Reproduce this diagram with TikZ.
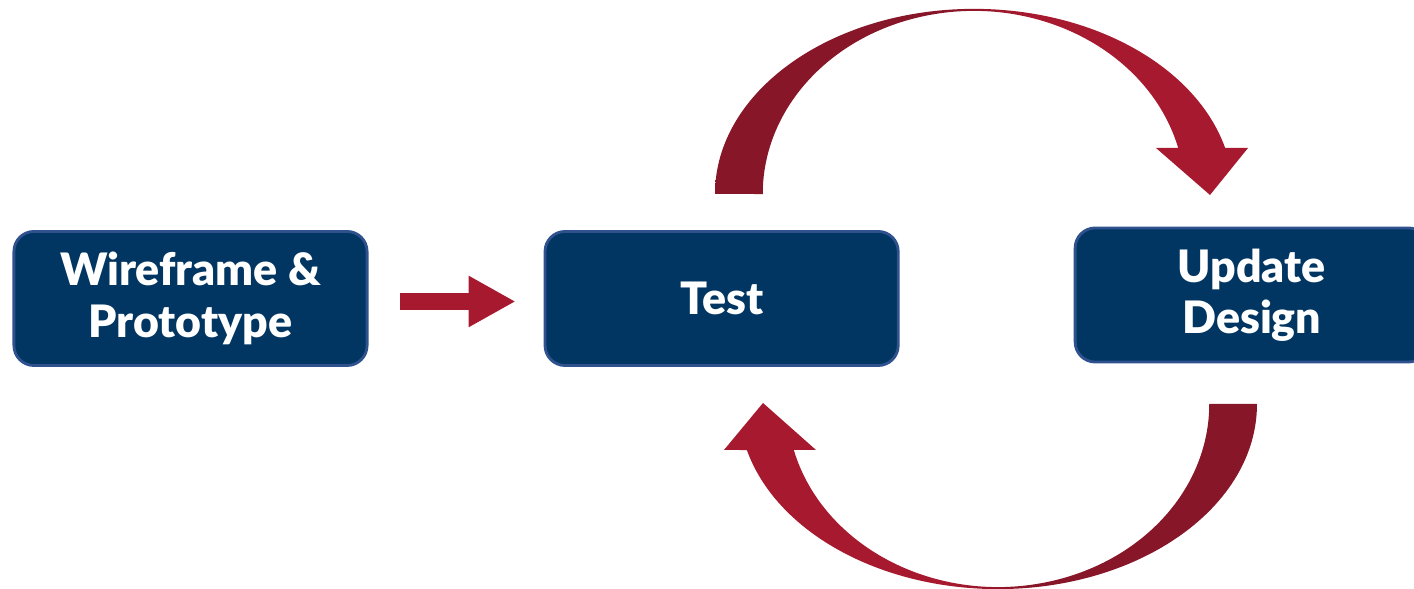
\documentclass[tikz,border=0pt]{standalone}
\usepackage{fontspec}
\setmainfont{Lato}[BoldFont={Lato Black}]
\usepackage{tikz}
\usetikzlibrary{arrows.meta,positioning}
\definecolor{BoxNavy}{RGB}{2,54,98}
\definecolor{BoxEdge}{RGB}{47,82,143}
\definecolor{ArcRed}{RGB}{166,25,46}
\definecolor{ArcDark}{RGB}{134,22,40}
\pgfdeclarehorizontalshading{arcshade}{100bp}{color(0bp)=(ArcDark); color(46bp)=(ArcDark); color(54bp)=(ArcRed); color(100bp)=(ArcRed)}
\tikzset{
  stepbox/.style={draw=BoxEdge,fill=BoxNavy,line width=0.8pt,rounded corners=0.2cm,minimum width=3.53cm,minimum height=1.34cm,text=white,align=center,font=\bfseries\fontsize{12.7}{14.6}\selectfont},
  blockarrow/.style={-{Triangle[length=0.47cm,width=0.48cm]},draw=ArcRed,line width=0.17cm,shorten <=0.31cm,shorten >=0.28cm},
  loopshade/.style={shading=arcshade}
}
\begin{document}
\begin{tikzpicture}[x=0.01cm,y=0.01cm]
\useasboundingbox (0,0) rectangle (1414,589);
\node[stepbox](wire) at (190.5,290.5){Wireframe \&\\Prototype};
\node[stepbox,right=1.75cm of wire](test){Test};
\node[stepbox,right=1.74cm of test,yshift=0.035cm](update){Update\\Design};
\draw[blockarrow]([yshift=-0.03cm]wire.east)--([yshift=-0.03cm]test.west);
\shade[loopshade](715,395) arc[start angle=180,end angle=14.4,x radius=2.59cm,y radius=1.85cm]
  --(1248,441)--(1210,394)--(1156,441)--(1178.2,441)
  arc[start angle=14.56,end angle=180,x radius=2.11cm,y radius=1.83cm]--cycle;
\shade[loopshade,shading angle=180](1257,185) arc[start angle=0,end angle=-165.6,x radius=2.59cm,y radius=1.85cm]
  --(724,139)--(763,186)--(816,139)--(793.8,139)
  arc[start angle=-165.44,end angle=0,x radius=2.11cm,y radius=1.83cm]--cycle;
\end{tikzpicture}
\end{document}
